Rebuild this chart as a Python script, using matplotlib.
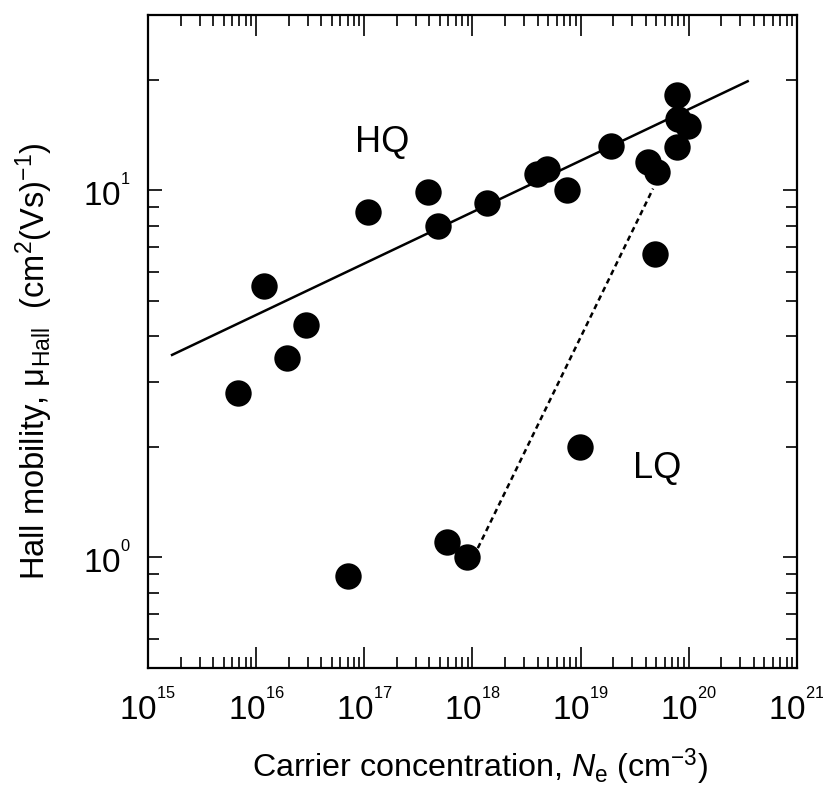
import numpy as np
import matplotlib
matplotlib.use('Agg')
import matplotlib.pyplot as plt

plt.rcParams['font.family'] = ['Liberation Sans', 'DejaVu Sans']
plt.rcParams['mathtext.fontset'] = 'custom'
plt.rcParams['mathtext.rm'] = 'Liberation Sans'
plt.rcParams['mathtext.it'] = 'Liberation Sans:italic'

# carrier concentration (cm^-3) and Hall mobility (cm^2/Vs)
Ne = [6.8e15, 1.18e16, 1.93e16, 2.9e16, 7.06e16, 1.08e17, 3.9e17, 4.8e17,
      1.36e18, 5.8e17, 8.9e17, 3.95e18, 4.9e18, 7.5e18, 9.9e18, 1.91e19,
      4.2e19, 5.1e19, 4.9e19, 7.76e19, 7.9e19, 9.8e19, 7.76e19]
mu = [2.8, 5.5, 3.5, 4.3, 0.89, 8.7, 9.9, 8.0,
      9.2, 1.10, 1.0, 11.1, 11.4, 10.0, 2.0, 13.2,
      11.9, 11.2, 6.7, 18.2, 15.6, 15.0, 13.1]

# HQ trend line (solid) and LQ guide line (dotted)
hq_N = [1.67e15, 3.5e20]
hq_mu = [3.56, 19.8]
lq_N = [1.12e18, 4.67e19]
lq_mu = [1.06, 10.1]

x_exp = [15, 16, 17, 18, 19, 20, 21]
y_exp = [0, 1]

fig = plt.figure(figsize=(8.23, 7.89), dpi=100)
ax = fig.add_axes([0.1798, 0.1534, 0.7886, 0.8276])

ax.plot(hq_N, hq_mu, '-', color='black', lw=1.8)
ax.plot(lq_N, lq_mu, color='black', lw=1.8, linestyle=(0, (2.2, 1.6)))
ax.plot(Ne, mu, 'o', color='black', markersize=19, markeredgewidth=0)

ax.text(1.46e17, 13.5, 'HQ', fontsize=26, ha='center', va='center')
ax.text(5.1e19, 1.75, 'LQ', fontsize=26, ha='center', va='center')

ax.set_xscale('log')
ax.set_yscale('log')
ax.set_xlim(1e15, 1e21)
ax.set_ylim(0.5, 30)
# small raised exponents like the original
ax.set_xticks([10.0**k for k in x_exp])
ax.set_xticklabels(['$10^{{}^{%d}}$' % k for k in x_exp])
ax.set_yticks([10.0**k for k in y_exp])
ax.set_yticklabels(['$10^{{}^{%d}}$' % k for k in y_exp])

ax.tick_params(which='both', direction='in', top=True, right=True, width=1.2)
ax.tick_params(which='major', length=15, labelsize=24)
ax.tick_params(axis='x', which='major', pad=15)
ax.tick_params(axis='y', which='major', length=10, pad=12)
ax.tick_params(which='minor', length=8)
for s in ax.spines.values():
    s.set_linewidth(1.6)

ax.set_xlabel('Carrier concentration, $N_{\\rm e}$ (cm$^{-3}$)', fontsize=23.2)
ax.xaxis.set_label_coords(0.512, -0.121)
ax.set_ylabel('Hall mobility, μ$_{\\rm Hall}$  (cm$^{2}$(Vs)$^{-1}$)', fontsize=23.5)
ax.yaxis.set_label_coords(-0.143, 0.47)

fig.savefig('out.png', dpi=100)
